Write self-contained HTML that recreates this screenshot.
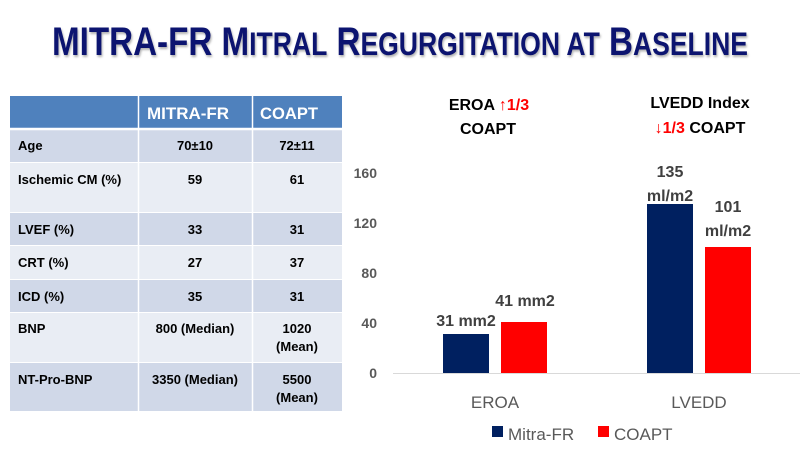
<!DOCTYPE html>
<html><head><meta charset="utf-8"><style>
html,body{margin:0;padding:0;background:#fff;}
svg{display:block;font-family:"Liberation Sans",sans-serif;}
</style></head><body>
<svg width="800" height="450" viewBox="0 0 800 450" xmlns="http://www.w3.org/2000/svg">
<text x="52" y="55" font-size="40" font-weight="bold" fill="#0c1470" textLength="696" lengthAdjust="spacingAndGlyphs" style="filter:drop-shadow(1px 2px 1px rgba(0,0,0,0.3))">MITRA-FR M<tspan font-size="32">ITRAL</tspan> R<tspan font-size="32">EGURGITATION AT</tspan> B<tspan font-size="32">ASELINE</tspan></text>

<g>
<rect x="10" y="96" width="332" height="32" fill="#4f81bd"/>
<rect x="10" y="130" width="332" height="32" fill="#d0d8e8"/>
<rect x="10" y="163" width="332" height="49" fill="#e9edf4"/>
<rect x="10" y="213" width="332" height="32" fill="#d0d8e8"/>
<rect x="10" y="246" width="332" height="33" fill="#e9edf4"/>
<rect x="10" y="280" width="332" height="32" fill="#d0d8e8"/>
<rect x="10" y="313" width="332" height="49" fill="#e9edf4"/>
<rect x="10" y="363" width="332" height="48" fill="#d0d8e8"/>
<g stroke="#fff" stroke-width="1.5">
<line x1="138.5" y1="96" x2="138.5" y2="411"/>
<line x1="252.5" y1="96" x2="252.5" y2="411"/>
<line x1="10" y1="129" x2="342" y2="129" stroke-width="2.5"/>
</g>
<g font-weight="bold" fill="#fff" font-size="17">
<text x="147" y="119" textLength="82" lengthAdjust="spacingAndGlyphs">MITRA-FR</text>
<text x="260" y="119" textLength="58" lengthAdjust="spacingAndGlyphs">COAPT</text>
</g>
<g font-weight="bold" fill="#000" font-size="13">
<text x="18" y="150">Age</text>
<text x="18" y="184">Ischemic CM (%)</text>
<text x="18" y="234">LVEF (%)</text>
<text x="18" y="267">CRT (%)</text>
<text x="18" y="301">ICD (%)</text>
<text x="18" y="333">BNP</text>
<text x="18" y="384">NT-Pro-BNP</text>
<g text-anchor="middle">
<text x="195" y="150">70±10</text><text x="297" y="150">72±11</text>
<text x="195" y="184">59</text><text x="297" y="184">61</text>
<text x="195" y="234">33</text><text x="297" y="234">31</text>
<text x="195" y="267">27</text><text x="297" y="267">37</text>
<text x="195" y="301">35</text><text x="297" y="301">31</text>
<text x="195" y="333">800 (Median)</text><text x="297" y="333">1020</text><text x="297" y="351">(Mean)</text>
<text x="195" y="384">3350 (Median)</text><text x="297" y="384">5500</text><text x="297" y="402">(Mean)</text>
</g>
</g>
</g>

<line x1="393" y1="373.5" x2="800" y2="373.5" stroke="#d9d9d9" stroke-width="1"/>
<g font-size="14" font-weight="bold" fill="#595959" text-anchor="end">
<text x="377" y="378">0</text>
<text x="377" y="328">40</text>
<text x="377" y="278">80</text>
<text x="377" y="228">120</text>
<text x="377" y="178">160</text>
</g>
<rect x="443" y="334" width="46" height="39" fill="#002060"/>
<rect x="501" y="322" width="46" height="51" fill="#ff0000"/>
<rect x="647" y="204" width="46" height="169" fill="#002060"/>
<rect x="705" y="247" width="46" height="126" fill="#ff0000"/>
<g font-size="16" font-weight="bold" fill="#404040" text-anchor="middle">
<text x="466" y="326">31 mm2</text>
<text x="525" y="306">41 mm2</text>
<text x="670" y="177">135</text>
<text x="670" y="201">ml/m2</text>
<text x="728" y="212">101</text>
<text x="728" y="236">ml/m2</text>
<text x="495" y="408" font-weight="normal" font-size="17" fill="#595959">EROA</text>
<text x="699" y="408" font-weight="normal" font-size="17" fill="#595959">LVEDD</text>
</g>
<g font-size="16" font-weight="bold" fill="#000" text-anchor="middle">
<text x="489" y="110">EROA <tspan fill="#ff0000">↑1/3</tspan></text>
<text x="488" y="134">COAPT</text>
<text x="700" y="108">LVEDD Index</text>
<text x="700" y="133"><tspan fill="#ff0000">↓1/3</tspan> COAPT</text>
</g>
<rect x="492" y="426" width="11" height="11" fill="#002060"/>
<text x="508" y="440" font-size="17" fill="#595959">Mitra-FR</text>
<rect x="598" y="426" width="11" height="11" fill="#ff0000"/>
<text x="614" y="440" font-size="17" fill="#595959">COAPT</text>
</svg>
</body></html>
